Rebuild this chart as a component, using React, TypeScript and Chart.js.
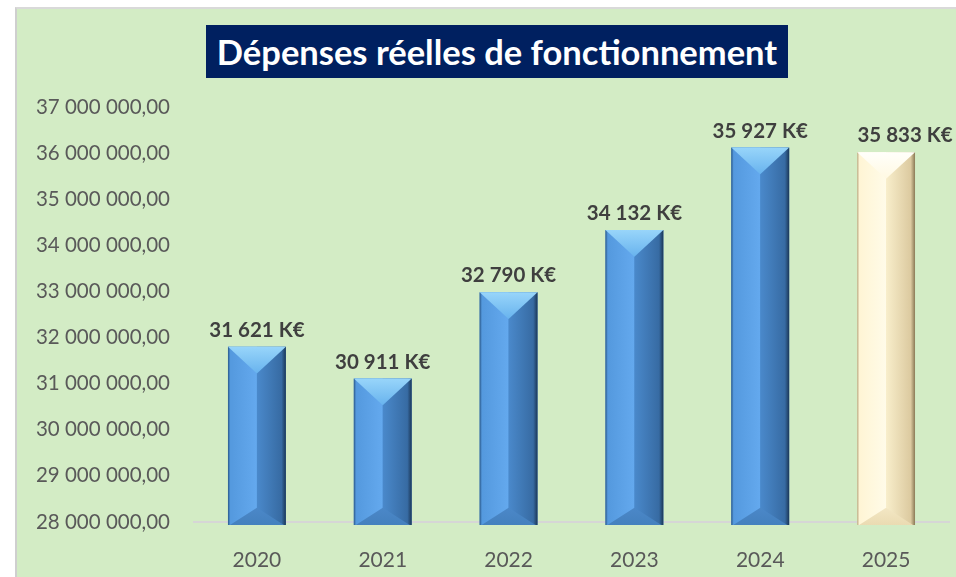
import React, { useEffect, useRef } from 'react';
import { Chart, registerables } from 'chart.js';
Chart.register(...registerables);

const titleText = 'Dépenses réelles de fonctionnement';
const years = ['2020', '2021', '2022', '2023', '2024', '2025'];
const barValues = [31800000, 31110000, 32980000, 34330000, 36120000, 36020000];
const valueLabels = ['31 621 K€', '30 911 K€', '32 790 K€', '34 132 K€', '35 927 K€', '35 833 K€'];
const yMin = 28000000;
const yMax = 37000000;
const yStep = 1000000;

const FONT = 'Lato, "Open Sans", sans-serif';

function fmt(v: number): string {
  const s = Math.round(v).toString().replace(/\B(?=(\d{3})+(?!\d))/g, ' ');
  return s + ',00';
}

const blue = {
  body: '#4f92d6',
  edgeL: '#2a5889', lightL: '#5499de', lightC: '#64a9ee',
  midR: '#4a89cb', darkR: '#376ba3', edgeR: '#1b3757',
  topA: '#98d5fa', topB: '#68b3ee',
  botA: '#4b88c8', botB: '#4480be',
};
const cream = {
  body: '#fbf2d2',
  edgeL: '#b9a982', lightL: '#fff5d5', lightC: '#fffbe8',
  midR: '#f8eecb', darkR: '#dccaa0', edgeR: '#8a7a56',
  topA: '#fffffb', topB: '#fff9e2',
  botA: '#f3e7c4', botB: '#eadbb2',
};

const bevelPlugin = {
  id: 'bevel',
  afterDatasetsDraw(chart: any) {
    const ctx = chart.ctx as CanvasRenderingContext2D;
    const meta = chart.getDatasetMeta(0);
    const n = meta.data.length;
    meta.data.forEach((el: any, i: number) => {
      const { x, y, base, width } = el.getProps(['x', 'y', 'base', 'width'], true);
      const p = i === n - 1 ? cream : blue;
      const l = x - width / 2, r = x + width / 2, t = y, b = base;
      ctx.save();
      let g = ctx.createLinearGradient(l, 0, x, 0);
      g.addColorStop(0, p.edgeL);
      g.addColorStop(0.08, p.lightL);
      g.addColorStop(1, p.lightC);
      ctx.fillStyle = g;
      ctx.fillRect(l, t, x - l, b - t);
      g = ctx.createLinearGradient(x, 0, r, 0);
      g.addColorStop(0, p.midR);
      g.addColorStop(0.85, p.darkR);
      g.addColorStop(1, p.edgeR);
      ctx.fillStyle = g;
      ctx.fillRect(x, t, r - x, b - t);
      const bd = width * 0.3;
      g = ctx.createLinearGradient(0, b - bd, 0, b);
      g.addColorStop(0, p.botA);
      g.addColorStop(1, p.botB);
      ctx.fillStyle = g;
      ctx.beginPath();
      ctx.moveTo(l + 2, b);
      ctx.lineTo(r - 2, b);
      ctx.lineTo(x, b - bd);
      ctx.closePath();
      ctx.fill();
      const td = width * 0.46;
      g = ctx.createLinearGradient(0, t, 0, t + td);
      g.addColorStop(0, p.topA);
      g.addColorStop(1, p.topB);
      ctx.fillStyle = g;
      ctx.beginPath();
      ctx.moveTo(l, t);
      ctx.lineTo(r, t);
      ctx.lineTo(x, t + td);
      ctx.closePath();
      ctx.fill();
      ctx.restore();
    });
  },
};

const labelPlugin = {
  id: 'valueLabels',
  afterDraw(chart: any) {
    const ctx = chart.ctx as CanvasRenderingContext2D;
    const meta = chart.getDatasetMeta(0);
    const n = meta.data.length;
    ctx.save();
    ctx.font = 'bold 20.5px ' + FONT;
    ctx.fillStyle = '#3f3f3f';
    ctx.textAlign = 'center';
    ctx.textBaseline = 'alphabetic';
    meta.data.forEach((el: any, i: number) => {
      const { x, y } = el.getProps(['x', 'y'], true);
      const dx = i === n - 1 ? 19 : 0;
      ctx.fillText(valueLabels[i], x + dx, y - 10);
    });
    ctx.restore();
  },
};

export default function App() {
  const ref = useRef<HTMLCanvasElement | null>(null);
  useEffect(() => {
    if (!ref.current) return;
    const chart = new Chart(ref.current, {
      type: 'bar',
      data: {
        labels: years,
        datasets: [
          {
            data: barValues,
            backgroundColor: barValues.map((_, i) => (i === barValues.length - 1 ? cream.body : blue.body)),
            borderWidth: 0,
            base: yMin - 65000,
            clip: false as any,
            barPercentage: 0.46,
            categoryPercentage: 1,
          } as any,
        ],
      },
      options: {
        animation: false,
        responsive: false,
        maintainAspectRatio: false,
        layout: { padding: { top: 107, right: 7, bottom: 0, left: 0 } },
        plugins: {
          legend: { display: false },
          tooltip: { enabled: false },
          title: { display: false },
        },
        scales: {
          x: {
            z: 1,
            grid: { display: false },
            border: { display: true, color: '#d6d6d6', width: 2 },
            ticks: { color: '#595959', font: { family: FONT, size: 21 }, padding: 18 },
            afterFit: (s: any) => { s.height = 55; },
          },
          y: {
            min: yMin,
            max: yMax,
            grid: { display: false, drawTicks: false },
            border: { display: false },
            ticks: {
              stepSize: yStep,
              color: '#595959',
              font: { family: FONT, size: 20.5 },
              padding: 24,
              callback: (v: any) => fmt(Number(v)),
            },
            afterFit: (s: any) => { s.width = 194; },
          },
        },
      },
      plugins: [bevelPlugin, labelPlugin],
    });
    return () => chart.destroy();
  }, []);

  return (
    <div style={{ position: 'fixed', left: 0, top: 0, width: 956, height: 577, background: '#ffffff', overflow: 'hidden' }}>
      <div
        style={{
          position: 'absolute', left: 15, top: 7, width: 960, height: 580,
          background: '#d3ecc5', borderLeft: '2px solid #cfcfcf', borderTop: '2px solid #d9d9d9',
          boxSizing: 'border-box',
        }}
      />
      <canvas ref={ref} width={956} height={577} style={{ position: 'absolute', left: 0, top: 0, width: 956, height: 577 }} />
      <div
        style={{
          position: 'absolute', left: 206, top: 25, width: 582, height: 53,
          background: '#002060', color: '#ffffff', fontFamily: FONT, fontWeight: 700,
          fontSize: 34.5, lineHeight: '53px', textAlign: 'center', whiteSpace: 'nowrap',
        }}
      >
        {titleText}
      </div>
    </div>
  );
}
